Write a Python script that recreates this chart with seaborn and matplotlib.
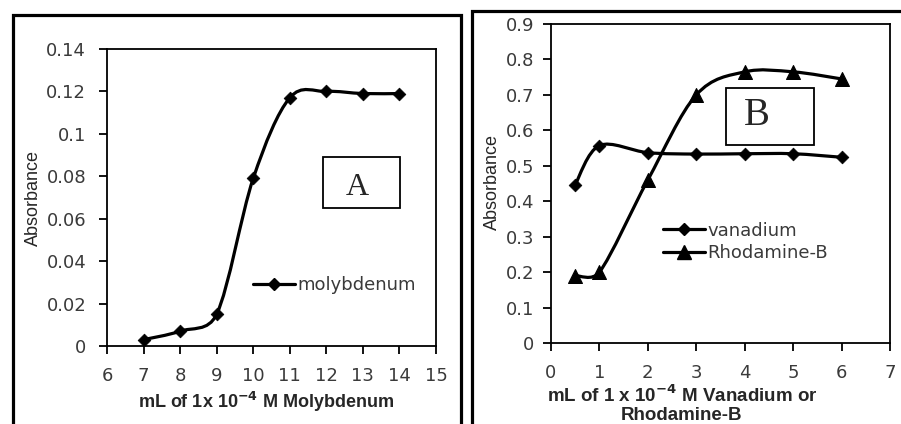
import numpy as np
import pandas as pd
import seaborn as sns
import matplotlib
matplotlib.use("Agg")
import matplotlib.pyplot as plt
from matplotlib.path import Path
from matplotlib.patches import PathPatch, Rectangle
from matplotlib.lines import Line2D

# panel A : molybdenum
mo_ml = [7, 8, 9, 10, 11, 12, 13, 14]
mo_abs = [0.003, 0.007, 0.015, 0.079, 0.117, 0.120, 0.119, 0.119]

# panel B : vanadium / rhodamine-B
vb_ml = [0.5, 1, 2, 3, 4, 5, 6]
v_abs = [0.447, 0.557, 0.537, 0.533, 0.534, 0.534, 0.524]
rb_abs = [0.190, 0.200, 0.460, 0.700, 0.765, 0.765, 0.745]

sns.set_style("ticks")
plt.rcParams['font.family'] = ['DejaVu Sans']
plt.rcParams['mathtext.fontset'] = 'custom'
plt.rcParams['mathtext.rm'] = 'Liberation Sans Narrow'
plt.rcParams['mathtext.bf'] = 'Liberation Sans Narrow:bold'

TICK_FS = 13
LAB_FONT = ['Liberation Sans Narrow', 'Liberation Sans']


def smooth_path(x, y, sx, sy):
    # excel-like "smoothed line": bezier through every point,
    # control arms worked out in pixel space and capped at half a segment
    s = np.array([sx, sy])
    p = np.column_stack([x, y]).astype(float) * s
    n = len(p)
    verts = [p[0] / s]
    codes = [Path.MOVETO]
    for i in range(n - 1):
        p0 = p[i - 1] if i > 0 else p[i]
        p3 = p[i + 2] if i + 2 < n else p[i + 1]
        half = np.linalg.norm(p[i + 1] - p[i]) / 2
        a1 = (p[i + 1] - p0) / 6
        a2 = (p3 - p[i]) / 6
        if np.linalg.norm(a1) > half:
            a1 = a1 * half / np.linalg.norm(a1)
        if np.linalg.norm(a2) > half:
            a2 = a2 * half / np.linalg.norm(a2)
        verts += [(p[i] + a1) / s, (p[i + 1] - a2) / s, p[i + 1] / s]
        codes += [Path.CURVE4] * 3
    return Path(verts, codes)


def style_axes(ax, xpad, ypad):
    for sp in ax.spines.values():
        sp.set_visible(True)
        sp.set_color('black')
        sp.set_linewidth(1.3)
    ax.tick_params(axis='both', direction='out', length=6, width=1.3,
                   colors='black', labelcolor='#3a3a3a', labelsize=TICK_FS)
    ax.tick_params(axis='x', pad=xpad)
    ax.tick_params(axis='y', pad=ypad)
    ax.grid(False)


fig = plt.figure(figsize=(9.01, 4.24), dpi=100)
fig.patch.set_facecolor('white')

# ---------------- panel A
axA = fig.add_axes([107 / 901, 78 / 424, 329 / 901, 297 / 424])
dfA = pd.DataFrame({'ml': mo_ml, 'abs': mo_abs})
axA.add_patch(PathPatch(smooth_path(dfA['ml'], dfA['abs'], 329 / 9, 297 / 0.14),
                        fill=False, lw=2.3, edgecolor='black', capstyle='round',
                        zorder=2))
sns.scatterplot(data=dfA, x='ml', y='abs', marker='D', s=42, color='black',
                edgecolor='black', ax=axA, zorder=3, legend=False)
axA.set_xlim(6, 15)
axA.set_ylim(0, 0.14)
axA.set_xticks(range(6, 16))
axA.set_yticks(np.arange(0, 0.141, 0.02))
axA.set_yticklabels(['0', '0.02', '0.04', '0.06', '0.08', '0.1', '0.12', '0.14'])
style_axes(axA, 9, 9)
axA.set_xlabel(r'mL of 1x 10$^{\mathbf{-4}}$ M Molybdenum', family=LAB_FONT,
               fontweight='bold', fontsize=13)
axA.xaxis.set_label_coords((266 - 107) / 329, (346 - 402) / 297)
axA.xaxis.label.set_va('center')
axA.set_ylabel('Absorbance', family=LAB_FONT, fontsize=13)
axA.yaxis.set_label_coords((33 - 107) / 329, (346 - 198) / 297)
axA.yaxis.label.set_va('center')

hA = [Line2D([], [], color='black', lw=2.3, marker='D', markersize=6.5)]
axA.legend(hA, ['molybdenum'], loc='center left', frameon=False,
           bbox_to_anchor=((253 - 107) / 329, (346 - 285) / 297),
           borderaxespad=0, borderpad=0, handlelength=2.3, handletextpad=0.15,
           fontsize=13, labelcolor='#3a3a3a')

axA.add_patch(Rectangle((0.657, 0.465), 0.234, 0.171, transform=axA.transAxes,
                        fill=False, lw=1.3, edgecolor='black'))
axA.text(0.760, 0.533, 'A', transform=axA.transAxes, ha='center', va='center',
         family='Liberation Serif', fontsize=23)

# ---------------- panel B
axB = fig.add_axes([551 / 901, 81 / 424, 339 / 901, 319 / 424])
dfB = pd.DataFrame({'ml': vb_ml, 'vanadium': v_abs, 'Rhodamine-B': rb_abs})
for col, mk, sz in [('vanadium', 'D', 42), ('Rhodamine-B', '^', 100)]:
    axB.add_patch(PathPatch(smooth_path(dfB['ml'], dfB[col], 339 / 7, 319 / 0.9),
                            fill=False, lw=2.3, edgecolor='black',
                            capstyle='round', zorder=2))
    sns.scatterplot(data=dfB, x='ml', y=col, marker=mk, s=sz, color='black',
                    edgecolor='black', ax=axB, zorder=3, legend=False)
axB.set_xlim(0, 7)
axB.set_ylim(0, 0.9)
axB.set_xticks(range(0, 8))
axB.set_yticks(np.arange(0, 0.91, 0.1))
axB.set_yticklabels(['0', '0.1', '0.2', '0.3', '0.4', '0.5', '0.6', '0.7', '0.8', '0.9'])
style_axes(axB, 9, 6)
axB.set_xlabel('')
axB.set_ylabel('Absorbance', family=LAB_FONT, fontsize=13)
axB.yaxis.set_label_coords((492 - 551) / 339, (343 - 182) / 319)
axB.yaxis.label.set_va('center')
fig.text(682 / 901, 1 - 404 / 424,
         'mL of 1 x 10$^{\\mathbf{-4}}$ M Vanadium or\nRhodamine-B',
         ha='center', va='center', multialignment='center', family=LAB_FONT,
         fontweight='bold', fontsize=13.5, linespacing=1.1)

hB = [Line2D([], [], color='black', lw=2.3, marker='D', markersize=6.5),
      Line2D([], [], color='black', lw=2.3, marker='^', markersize=10)]
axB.legend(hB, ['vanadium', 'Rhodamine-B'], loc='center left', frameon=False,
           bbox_to_anchor=((663 - 551) / 339, (343 - 242) / 319),
           borderaxespad=0, borderpad=0, handlelength=2.3, handletextpad=0.15,
           labelspacing=0.25, fontsize=13, labelcolor='#3a3a3a')

axB.add_patch(Rectangle((0.516, 0.621), 0.260, 0.178, transform=axB.transAxes,
                        fill=False, lw=1.3, edgecolor='black'))
axB.text(0.608, 0.712, 'B', transform=axB.transAxes, ha='center', va='center',
         family='Liberation Serif', fontsize=28)

# ---------------- outer panel frames
fig.add_artist(Rectangle((13 / 901, -0.1), 448 / 901, 1.1 - 15.5 / 424,
                         transform=fig.transFigure, fill=False, lw=2.3,
                         edgecolor='black'))
fig.add_artist(Rectangle((471.5 / 901, -0.1), 0.6, 1.1 - 11 / 424,
                         transform=fig.transFigure, fill=False, lw=2.3,
                         edgecolor='black'))

fig.savefig('out.png', dpi=100, facecolor='white')
